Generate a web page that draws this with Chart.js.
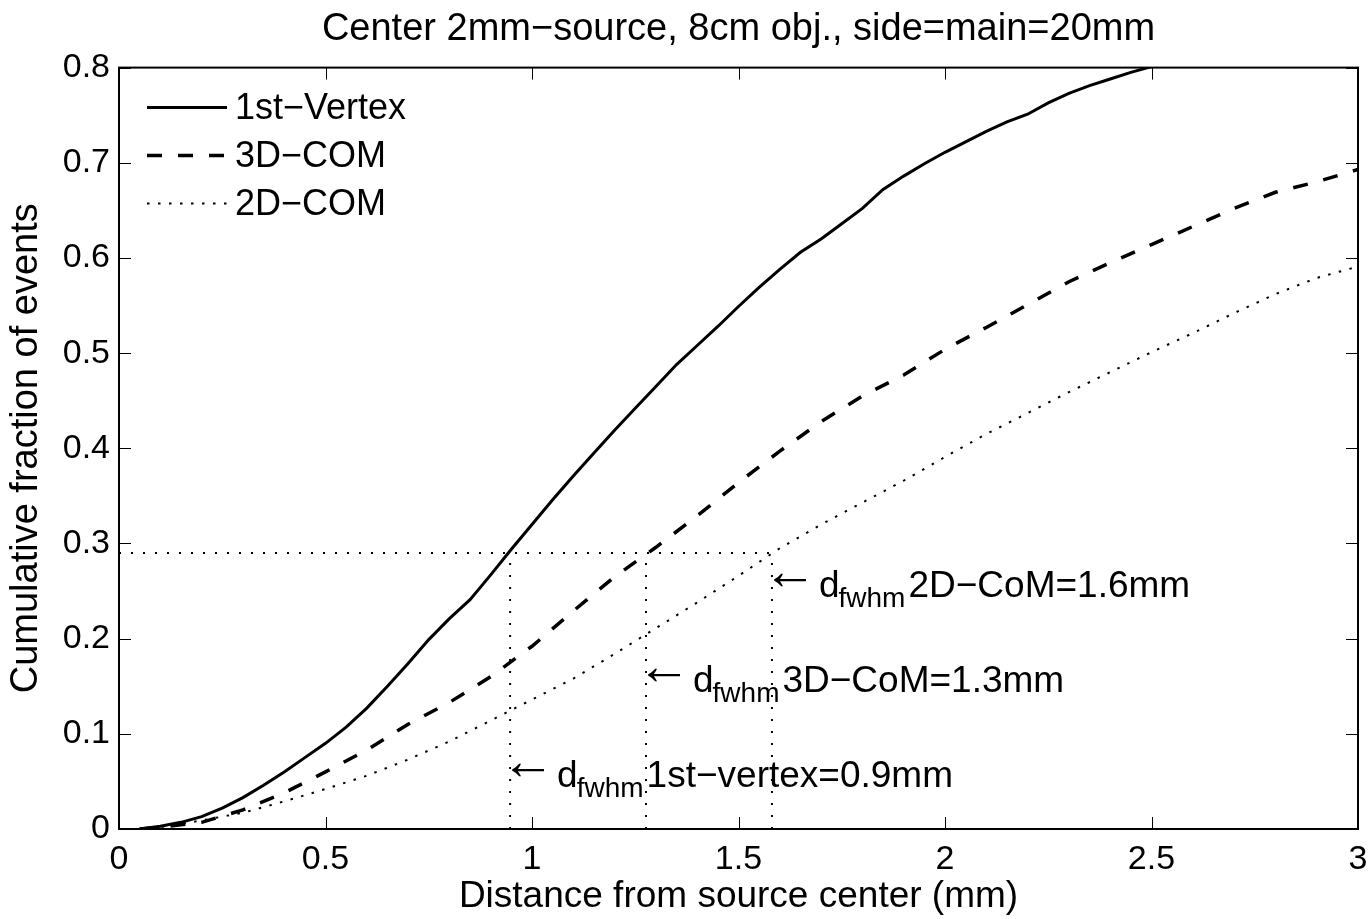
<!DOCTYPE html>
<html>
<head>
<meta charset="utf-8">
<script src="https://cdn.jsdelivr.net/npm/chart.js@4"></script>
<style>
  body { margin: 0; background: #fff; }
  canvas { display: block; }
</style>
</head>
<body>
<canvas id="cdf" width="1372" height="919"></canvas>
<script>
// values
const vertexX = [0.05, 0.10, 0.15, 0.20, 0.25, 0.30, 0.35, 0.40, 0.45, 0.50, 0.55, 0.60, 0.65, 0.70, 0.75, 0.80,
  0.85, 0.90, 0.95, 1.00, 1.05, 1.10, 1.15, 1.20, 1.25, 1.30, 1.35, 1.40, 1.45, 1.50, 1.55, 1.60, 1.65, 1.70,
  1.75, 1.80, 1.85, 1.90, 1.95, 2.00, 2.05, 2.10, 2.15, 2.20, 2.25, 2.30, 2.35, 2.40, 2.45, 2.50];
const vertexY = [0.000, 0.003, 0.007, 0.013, 0.022, 0.033, 0.046, 0.060, 0.075, 0.090, 0.107, 0.127, 0.150, 0.174,
  0.199, 0.221, 0.241, 0.267, 0.294, 0.320, 0.346, 0.371, 0.395, 0.419, 0.442, 0.465, 0.488, 0.508, 0.528, 0.549,
  0.569, 0.588, 0.606, 0.620, 0.636, 0.652, 0.672, 0.686, 0.699, 0.711, 0.722, 0.733, 0.743, 0.751, 0.763, 0.773,
  0.781, 0.788, 0.795, 0.801];

const comX = [0.05, 0.1, 0.2, 0.3, 0.4, 0.5, 0.6, 0.7, 0.8, 0.9, 1.0, 1.1, 1.2, 1.3, 1.4, 1.5, 1.6, 1.7, 1.8, 1.9,
  2.0, 2.1, 2.2, 2.3, 2.4, 2.5, 2.6, 2.7, 2.8, 2.9, 3.0];
const com3dY = [0.000, 0.002, 0.007, 0.020, 0.038, 0.060, 0.083, 0.110, 0.133, 0.160, 0.192, 0.229, 0.265, 0.296,
  0.329, 0.364, 0.397, 0.428, 0.455, 0.477, 0.504, 0.527, 0.551, 0.575, 0.595, 0.614, 0.633, 0.652, 0.669, 0.680, 0.693];
const com2dY = [0.000, 0.002, 0.009, 0.017, 0.029, 0.042, 0.056, 0.073, 0.092, 0.114, 0.136, 0.158, 0.184, 0.211,
  0.238, 0.266, 0.295, 0.320, 0.343, 0.366, 0.391, 0.415, 0.437, 0.459, 0.480, 0.501, 0.521, 0.542, 0.562, 0.579, 0.591];

const fwhmLevel = 0.29;
const fwhmX = [0.947, 1.276, 1.581];
const noteY = [0.064, 0.164, 0.264];
const noteText = ['1st\u2212vertex=0.9mm', '3D\u2212CoM=1.3mm', '2D\u2212CoM=1.6mm'];

const xTicks = [0, 0.5, 1, 1.5, 2, 2.5, 3];
const yTicks = [0, 0.1, 0.2, 0.3, 0.4, 0.5, 0.6, 0.7, 0.8];

const titleText = 'Center 2mm\u2212source, 8cm obj., side=main=20mm';
const xTitle = 'Distance from source center (mm)';
const yTitle = 'Cumulative fraction of events';

const FONT = "'Liberation Sans', Arial, Helvetica, sans-serif";
Chart.defaults.font.family = FONT;
Chart.defaults.color = '#000';

const pts = (xs, ys) => xs.map((x, i) => ({ x: x, y: ys[i] }));

const datasets = [
  { label: '1st\u2212Vertex', data: pts(vertexX, vertexY), borderColor: '#000', borderWidth: 3, borderDash: [], legend: true },
  { label: '3D\u2212COM', data: pts(comX, com3dY), borderColor: '#000', borderWidth: 3.5, borderDash: [15, 16], legend: true },
  { label: '2D\u2212COM', data: pts(comX, com2dY), borderColor: '#000', borderWidth: 2, borderDash: [2.5, 8.5], legend: true },
  { label: 'level', data: [{ x: 0, y: fwhmLevel }, { x: fwhmX[2], y: fwhmLevel }], borderColor: '#000', borderWidth: 2, borderDash: [2, 10] }
];
fwhmX.forEach(x => {
  datasets.push({ label: 'fwhm', data: [{ x: x, y: 0 }, { x: x, y: fwhmLevel }], borderColor: '#000', borderWidth: 2, borderDash: [2, 10] });
});

// box, inward ticks on every side
const framePlugin = {
  id: 'frame',
  afterDatasetsDraw(chart) {
    const { ctx, chartArea: a, scales } = chart;
    ctx.save();
    ctx.strokeStyle = '#000';
    ctx.lineWidth = 1;
    xTicks.forEach(v => {
      const px = Math.round(scales.x.getPixelForValue(v)) + 0.5;
      ctx.beginPath();
      ctx.moveTo(px, a.bottom); ctx.lineTo(px, a.bottom - 12);
      ctx.moveTo(px, a.top); ctx.lineTo(px, a.top + 12);
      ctx.stroke();
    });
    yTicks.forEach(v => {
      const py = Math.round(scales.y.getPixelForValue(v)) + 0.5;
      ctx.beginPath();
      ctx.moveTo(a.left, py); ctx.lineTo(a.left + 12, py);
      ctx.moveTo(a.right, py); ctx.lineTo(a.right - 12, py);
      ctx.stroke();
    });
    ctx.lineWidth = 2;
    ctx.strokeRect(a.left, a.top, a.right - a.left, a.bottom - a.top);
    ctx.restore();
  }
};

// legend inside the plot, top left
const legendPlugin = {
  id: 'innerLegend',
  afterDatasetsDraw(chart) {
    const { ctx, chartArea: a } = chart;
    ctx.save();
    ctx.font = '36px ' + FONT;
    ctx.textBaseline = 'middle';
    ctx.fillStyle = '#000';
    chart.data.datasets.filter(d => d.legend).forEach((d, i) => {
      const y = a.top + 40 + i * 48;
      ctx.beginPath();
      ctx.setLineDash(d.borderDash);
      ctx.lineWidth = d.borderWidth;
      ctx.strokeStyle = d.borderColor;
      ctx.moveTo(a.left + 28, y);
      ctx.lineTo(a.left + 108, y);
      ctx.stroke();
      ctx.setLineDash([]);
      ctx.fillText(d.label, a.left + 116, y + 1);
    });
    ctx.restore();
  }
};

// the d_fwhm notes next to the dotted lines
const notesPlugin = {
  id: 'notes',
  afterDatasetsDraw(chart) {
    const { ctx, scales } = chart;
    ctx.save();
    ctx.fillStyle = '#000';
    fwhmX.forEach((xv, i) => {
      const x0 = scales.x.getPixelForValue(xv);
      const y = scales.y.getPixelForValue(noteY[i]);
      ctx.textBaseline = 'middle';
      ctx.font = '54px ' + FONT;
      ctx.fillText('\u2190', x0 - 9, y - 4);
      let x = x0 + 47;
      ctx.textBaseline = 'alphabetic';
      ctx.font = '37px ' + FONT;
      ctx.fillText('d', x, y + 19);
      x += ctx.measureText('d').width - 1;
      ctx.font = '28px ' + FONT;
      ctx.fillText('fwhm', x, y + 29);
      x += ctx.measureText('fwhm').width + 3;
      ctx.font = '37px ' + FONT;
      ctx.fillText(noteText[i], x, y + 19);
    });
    ctx.restore();
  }
};

new Chart(document.getElementById('cdf'), {
  type: 'line',
  data: { datasets: datasets },
  options: {
    responsive: false,
    animation: false,
    layout: { padding: { left: 0, right: 14, top: 0, bottom: 0 } },
    elements: { point: { radius: 0 }, line: { tension: 0, borderCapStyle: 'butt' } },
    plugins: {
      legend: { display: false },
      tooltip: { enabled: false },
      title: {
        display: true,
        fullSize: false,
        text: titleText,
        color: '#000',
        font: { size: 38, weight: 'normal', lineHeight: 1.2 },
        padding: { top: 7, bottom: 15 }
      }
    },
    scales: {
      x: {
        type: 'linear',
        min: 0, max: 3,
        afterFit: s => { s.height = 90; s.paddingRight = 0; s.paddingLeft = 0; },
        afterBuildTicks: s => { s.ticks = xTicks.map(v => ({ value: v })); },
        grid: { display: false, drawTicks: false },
        border: { display: false },
        ticks: { font: { size: 34 }, padding: 10, maxRotation: 0, callback: v => String(v) },
        title: { display: true, text: xTitle, font: { size: 37 }, padding: { top: 0, bottom: 0 } }
      },
      y: {
        type: 'linear',
        min: 0, max: 0.8,
        afterFit: s => { s.width = 119; },
        afterBuildTicks: s => { s.ticks = yTicks.map(v => ({ value: v })); },
        grid: { display: false, drawTicks: false },
        border: { display: false },
        ticks: { font: { size: 34 }, padding: 9, callback: v => String(v) },
        title: { display: true, text: yTitle, font: { size: 38 }, padding: { top: 4, bottom: 0 } }
      }
    }
  },
  plugins: [framePlugin, legendPlugin, notesPlugin]
});
</script>
</body>
</html>
